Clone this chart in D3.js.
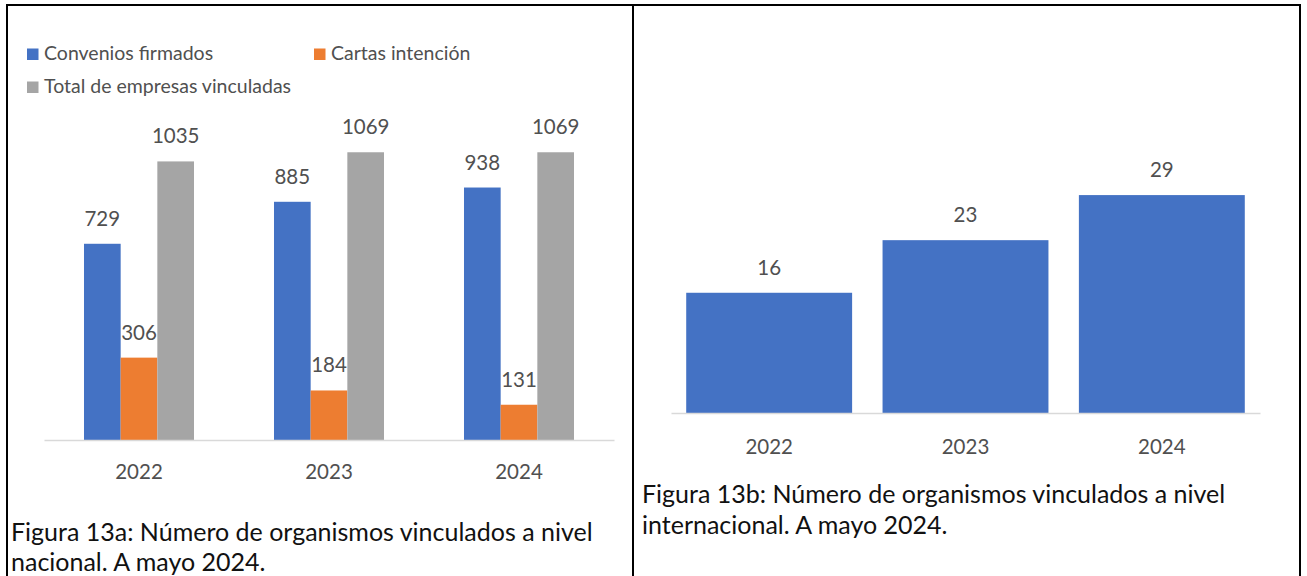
<!DOCTYPE html>
<html>
<head>
<meta charset="utf-8">
<script src="https://cdn.jsdelivr.net/npm/d3@7"></script>
<style>
  html, body { margin: 0; padding: 0; background: #fff; }
  svg { display: block; }
  text { font-family: Lato, "Open Sans", sans-serif; }
</style>
</head>
<body>
<svg id="chart" width="1307" height="576"></svg>
<script>
// ---- data ----
const years = ["2022", "2023", "2024"];
const seriesNames = ["Convenios firmados", "Cartas intención", "Total de empresas vinculadas"];
const convenios = [729, 885, 938];
const cartas = [306, 184, 131];
const totalEmpresas = [1035, 1069, 1069];
const internacional = [16, 23, 29];
const seriesColors = ["#4472C4", "#ED7D31", "#A5A5A5"];
const captionA = ["Figura 13a: Número de organismos vinculados a nivel", "nacional. A mayo 2024."];
const captionB = ["Figura 13b: Número de organismos vinculados a nivel", "internacional. A mayo 2024."];

const svg = d3.select("#chart");
const TXT = "#505050";
const FS = 19.5;      // legend
const NUM_FS = 20.5;  // data labels and category labels
const CAP_FS = 25;

// ---- table borders ----
const borders = svg.append("g").attr("stroke", "#000").attr("stroke-width", 2);
borders.append("line").attr("x1", 6).attr("x2", 1301).attr("y1", 5).attr("y2", 5);
borders.append("line").attr("x1", 7).attr("x2", 7).attr("y1", 4).attr("y2", 576);
borders.append("line").attr("x1", 633).attr("x2", 633).attr("y1", 4).attr("y2", 576);
borders.append("line").attr("x1", 1300).attr("x2", 1300).attr("y1", 4).attr("y2", 576);

// ---- left chart: grouped bars ----
const seriesData = [convenios, cartas, totalEmpresas];
const xA = d3.scaleBand().domain(years).range([44, 614]).paddingInner(0.421).paddingOuter(0.2105);
const xA1 = d3.scaleBand().domain(d3.range(seriesNames.length)).range([0, xA.bandwidth()]);
const yA = d3.scaleLinear().domain([0, 1200]).range([440, 117]);

const gA = svg.append("g");
years.forEach((yr, i) => {
  const grp = gA.append("g").attr("transform", `translate(${xA(yr)},0)`);
  seriesData.forEach((vals, s) => {
    grp.append("rect")
      .attr("x", xA1(s)).attr("width", xA1.bandwidth())
      .attr("y", yA(vals[i])).attr("height", yA(0) - yA(vals[i]))
      .attr("fill", seriesColors[s]);
    grp.append("text")
      .attr("x", xA1(s) + xA1.bandwidth() / 2)
      .attr("y", yA(vals[i]) - 18)
      .attr("text-anchor", "middle")
      .attr("font-size", NUM_FS).attr("fill", TXT)
      .text(vals[i]);
  });
});

const axA = svg.append("g").attr("transform", "translate(0,440)")
  .call(d3.axisBottom(xA).tickSize(0).tickSizeOuter(0).tickPadding(24));
axA.select(".domain").attr("stroke", "#D9D9D9").attr("stroke-width", 1.5);
axA.selectAll("text").attr("font-size", NUM_FS).attr("fill", TXT).attr("font-family", "Lato, sans-serif");

// legend
const legendPos = [[27, 60], [314, 60], [27, 93]];
seriesNames.forEach((name, s) => {
  const [lx, ly] = legendPos[s];
  svg.append("rect").attr("x", lx).attr("y", ly - 11.5).attr("width", 11.5).attr("height", 11.5)
    .attr("fill", seriesColors[s]);
  svg.append("text").attr("x", lx + 17).attr("y", ly)
    .attr("font-size", FS).attr("fill", TXT).text(name);
});

// caption A
captionA.forEach((line, i) => {
  svg.append("text").attr("x", 11).attr("y", 541 + i * 30)
    .attr("font-size", CAP_FS).attr("fill", "#111").text(line);
});

// ---- right chart ----
const xB = d3.scaleBand().domain(years).range([671, 1260]).paddingInner(0.155).paddingOuter(0.0775);
const yB = d3.scaleLinear().domain([0, 35]).range([413, 150]);
const gB = svg.append("g");
gB.selectAll("rect").data(internacional).join("rect")
  .attr("x", (d, i) => xB(years[i])).attr("width", xB.bandwidth())
  .attr("y", d => yB(d)).attr("height", d => yB(0) - yB(d))
  .attr("fill", seriesColors[0]);
gB.selectAll("text").data(internacional).join("text")
  .attr("x", (d, i) => xB(years[i]) + xB.bandwidth() / 2)
  .attr("y", d => yB(d) - 18)
  .attr("text-anchor", "middle")
  .attr("font-size", NUM_FS).attr("fill", TXT)
  .text(d => d);

const axB = svg.append("g").attr("transform", "translate(0,413)")
  .call(d3.axisBottom(xB).tickSize(0).tickSizeOuter(0).tickPadding(26));
axB.select(".domain").attr("stroke", "#D9D9D9").attr("stroke-width", 1.5);
axB.selectAll("text").attr("font-size", NUM_FS).attr("fill", TXT).attr("font-family", "Lato, sans-serif");

captionB.forEach((line, i) => {
  svg.append("text").attr("x", 642).attr("y", 503 + i * 31)
    .attr("font-size", CAP_FS).attr("fill", "#111").text(line);
});
</script>
</body>
</html>
